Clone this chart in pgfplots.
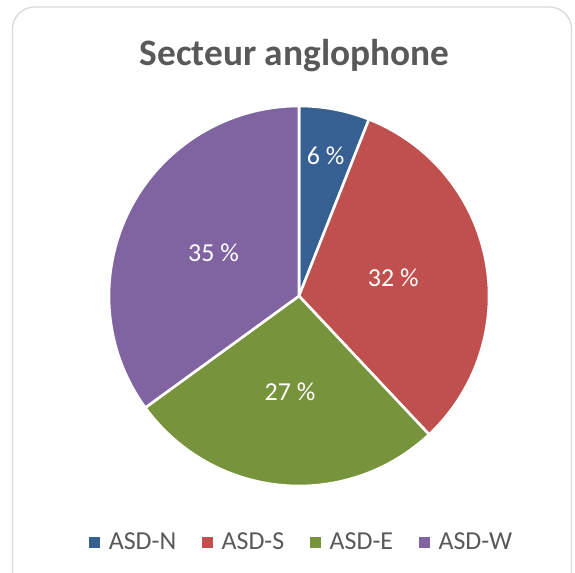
\documentclass[border=0pt]{standalone}
\usepackage{pgfplots}
\usepackage{pgfplotstable}
\pgfplotsset{compat=1.18}
\usepackage{fontspec}
\setmainfont{Carlito}
\definecolor{pie0}{HTML}{376092}
\definecolor{pie1}{HTML}{C0504D}
\definecolor{pie2}{HTML}{77933C}
\definecolor{pie3}{HTML}{8064A2}
\definecolor{txt}{HTML}{595959}
\definecolor{frame}{HTML}{D9D9D9}

% value = share in %, lr = label distance from centre (fraction of radius)
\pgfplotstableread{
label value lr
ASD-N 6 0.75
ASD-S 32 0.505
ASD-E 27 0.505
ASD-W 35 0.505
}\piedata

\begin{document}
\begin{tikzpicture}[x=1bp,y=1bp]
\path[use as bounding box] (0,0) rectangle (575,573);
\begin{scope}
\clip (0,0) rectangle (575,573);
\draw[rounded corners=22bp, draw=frame, line width=1.3bp, fill=white] (12.5,-30) rectangle (571.5,566);
\end{scope}
\node[anchor=base, text=txt, font=\bfseries\fontsize{37.5}{44}\selectfont] at (294.5,507) {Secteur anglophone};

\def\cum{0}
\foreach \i in {0,...,3}{%
  \pgfplotstablegetelem{\i}{lr}\of\piedata
  \expandafter\xdef\csname pr\i\endcsname{\pgfplotsretval}%
  \pgfplotstablegetelem{\i}{value}\of\piedata
  \expandafter\xdef\csname pv\i\endcsname{\pgfplotsretval}%
  \pgfmathsetmacro\sA{90-3.6*\cum}%
  \pgfmathsetmacro\eA{90-3.6*(\cum+\pgfplotsretval)}%
  \pgfmathsetmacro\mA{(\sA+\eA)/2}%
  \expandafter\xdef\csname ps\i\endcsname{\sA}%
  \expandafter\xdef\csname pe\i\endcsname{\eA}%
  \expandafter\xdef\csname pm\i\endcsname{\mA}%
  \pgfmathsetmacro\cc{\cum+\pgfplotsretval}%
  \xdef\cum{\cc}%
}

\begin{axis}[
  at={(299bp,277bp)}, anchor=center,
  width=380bp, height=380bp, scale only axis,
  xmin=-1, xmax=1, ymin=-1, ymax=1,
  hide axis, clip=false,
  legend columns=4,
  legend style={draw=none, fill=none, at={(0.5075,-0.147)}, anchor=center,
    font=\fontsize{26}{30}\selectfont, text=txt,
    /tikz/every odd column/.append style={column sep=7bp},
    /tikz/every even column/.append style={column sep=24bp}},
  legend image code/.code={\fill[#1] (0bp,-5bp) rectangle (10bp,5bp);},
]
\addlegendimage{pie0}\addlegendentry{ASD-N}
\addlegendimage{pie1}\addlegendentry{ASD-S}
\addlegendimage{pie2}\addlegendentry{ASD-E}
\addlegendimage{pie3}\addlegendentry{ASD-W}
\pgfplotsinvokeforeach{0,...,3}{
  \fill[pie#1, draw=white, line width=2.6bp, line join=round]
    (axis cs:0,0) -- (axis cs:{cos(\csname ps#1\endcsname)},{sin(\csname ps#1\endcsname)})
    arc[start angle=\csname ps#1\endcsname, end angle=\csname pe#1\endcsname, radius=190bp] -- cycle;
}
\pgfplotsinvokeforeach{0,...,3}{
  \node[text=white, font=\fontsize{26}{30}\selectfont]
    at (axis cs:{\csname pr#1\endcsname*cos(\csname pm#1\endcsname)},{\csname pr#1\endcsname*sin(\csname pm#1\endcsname)})
    {\csname pv#1\endcsname~\%};
}
\end{axis}
\end{tikzpicture}
\end{document}
